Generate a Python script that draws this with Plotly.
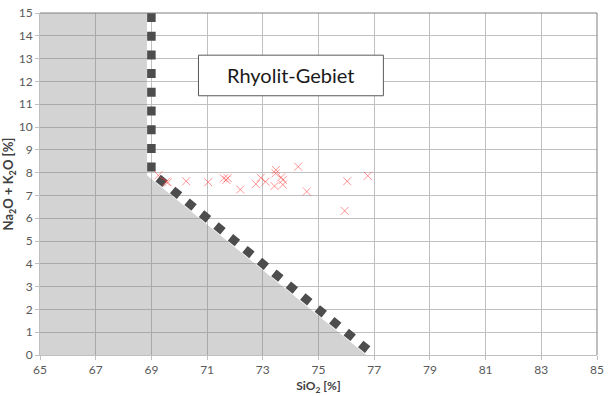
import plotly.graph_objects as go

# Sample points (SiO2 %, Na2O+K2O %)
sio2 = [69.25, 69.53, 69.59, 70.25, 71.04, 71.60, 71.74, 71.69, 72.19, 72.75,
        72.93, 73.10, 73.42, 73.47, 73.46, 73.66, 73.72, 73.72, 74.27, 74.58,
        76.03, 76.77, 75.94]
alk = [7.88, 7.60, 7.57, 7.62, 7.58, 7.75, 7.76, 7.68, 7.26, 7.50,
       7.77, 7.60, 7.41, 8.12, 7.97, 7.79, 7.68, 7.47, 8.26, 7.17,
       7.62, 7.86, 6.32]

# Field boundary (dashed) and shaded non-rhyolite area
boundary_x = [69, 69, 77]
boundary_y = [15, 8, 0]
shade_x = [65, 65, 68.84, 68.84, 76.72, 65]
shade_y = [0, 15, 15, 7.88, 0, 0]

x_ticks = [65, 67, 69, 71, 73, 75, 77, 79, 81, 83, 85]
y_ticks = list(range(0, 16))

label_text = "Rhyolit-Gebiet"
box_x = [70.69, 77.33]
box_y = [11.37, 13.15]

fig = go.Figure()
fig.add_trace(go.Scatter(x=shade_x, y=shade_y, mode="lines", fill="toself",
                         fillcolor="rgba(120,120,120,0.33)", line=dict(width=0),
                         hoverinfo="skip", showlegend=False))
fig.add_trace(go.Scatter(x=boundary_x, y=boundary_y, mode="lines",
                         line=dict(color="#4d4d4d", width=8.5, dash="9px,9.7px"),
                         showlegend=False))
fig.add_trace(go.Scatter(x=sio2, y=alk, mode="markers",
                         marker=dict(symbol="x-thin", size=8,
                                     line=dict(color="rgba(255,60,60,0.55)", width=1)),
                         showlegend=False))

fig.add_shape(type="rect", xref="x", yref="y", x0=box_x[0], x1=box_x[1],
              y0=box_y[0], y1=box_y[1], line=dict(color="#595959", width=1),
              fillcolor="white", layer="above")
fig.add_annotation(x=(box_x[0] + box_x[1]) / 2, y=(box_y[0] + box_y[1]) / 2,
                   xref="x", yref="y", text=label_text, showarrow=False,
                   font=dict(size=20, color="#1a1a1a", family="Lato"))
# darker top/right frame
fig.add_shape(type="line", xref="paper", yref="paper", x0=0, x1=1, y0=1, y1=1,
              line=dict(color="#7f7f7f", width=1))
fig.add_shape(type="line", xref="paper", yref="paper", x0=1, x1=1, y0=0, y1=1,
              line=dict(color="#7f7f7f", width=1))

fig.update_layout(
    width=609, height=396,
    margin=dict(l=37, r=6, t=5, b=38),
    paper_bgcolor="white", plot_bgcolor="white",
    font=dict(family="Lato", size=12, color="#595959"),
)
fig.update_xaxes(range=[65, 85], tickvals=x_ticks, showgrid=True, gridcolor="#c0c0c0",
                 gridwidth=1, zeroline=False, showline=True, linecolor="#bfbfbf",
                 ticks="outside", ticklen=4, tickcolor="#bfbfbf",
                 ticklabeloverflow="allow",
                 title=dict(text="<b>SiO<sub>2</sub> [%]</b>", standoff=5,
                            font=dict(size=12, color="#404040")))
fig.update_yaxes(range=[0, 15], tickvals=y_ticks, showgrid=True, gridcolor="#c0c0c0",
                 gridwidth=1, zeroline=False, showline=True, linecolor="#bfbfbf",
                 ticks="outside", ticklen=4, tickcolor="#bfbfbf",
                 ticklabeloverflow="allow",
                 title=dict(text="<b>Na<sub>2</sub>O + K<sub>2</sub>O [%]</b>", standoff=5,
                            font=dict(size=13, color="#404040")))

fig.write_html("out.html", config={"displayModeBar": False},
               post_script="document.body.style.margin='0';")
